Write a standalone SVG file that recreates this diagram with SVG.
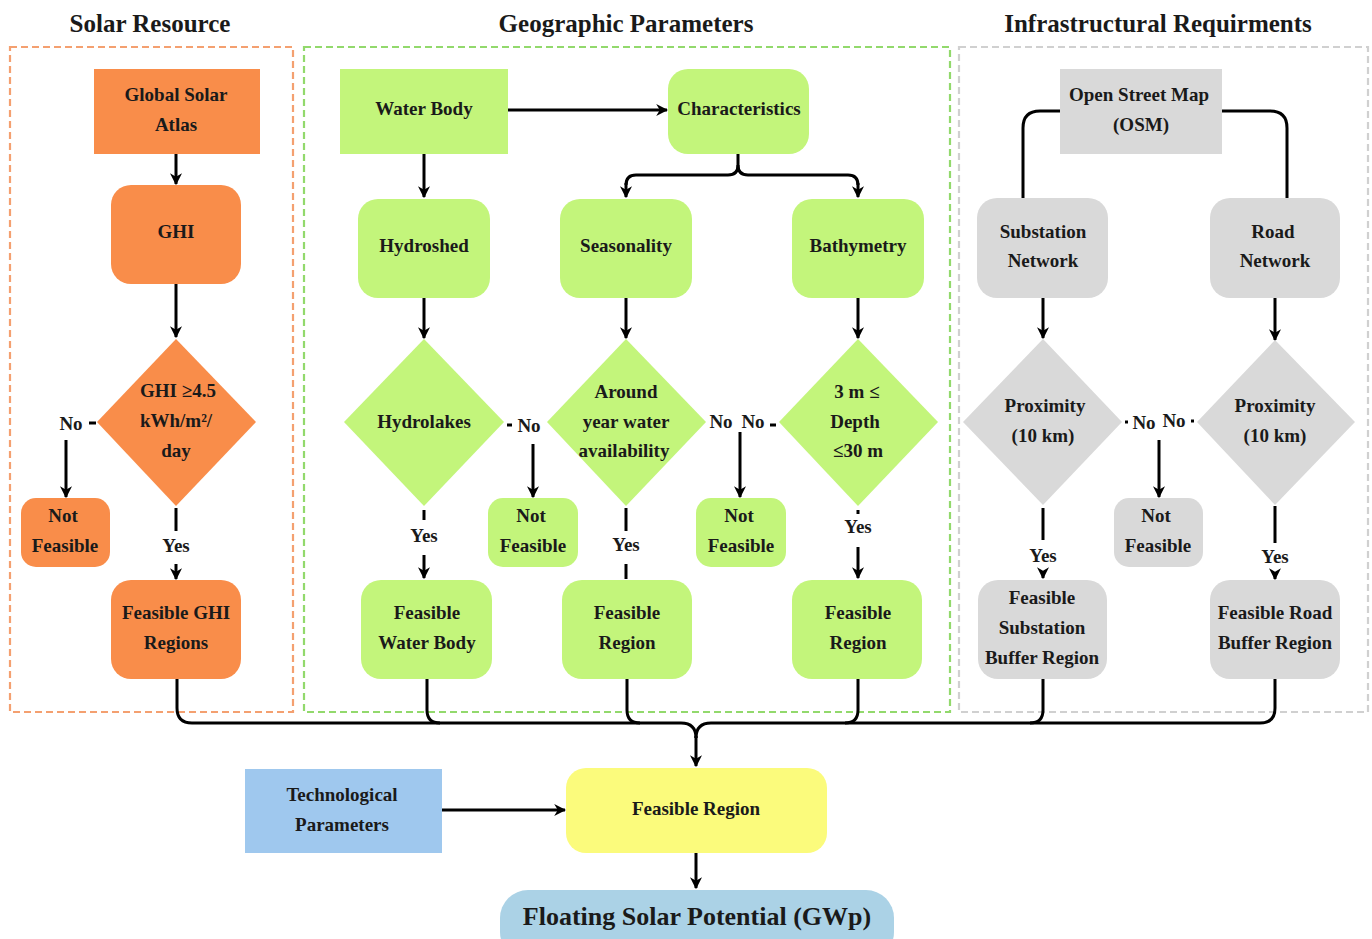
<svg xmlns="http://www.w3.org/2000/svg" width="1372" height="939" viewBox="0 0 1372 939">
<style>
text{font-family:"Liberation Serif","Times New Roman",serif;font-weight:bold;fill:#1a1a1a;text-anchor:middle;dominant-baseline:central}
.t{font-size:19px}
.h{font-size:25px}
.big{font-size:26px}
.or{fill:#F98D4A}
.gr{fill:#C3F57B}
.gy{fill:#D9D9D9}
.fr{fill:none;stroke-width:2.2;stroke-dasharray:7 4}
.c{fill:none;stroke:#000;stroke-width:3}
.a{fill:none;stroke:#000;stroke-width:3;marker-end:url(#ah)}
</style>
<defs>
<marker id="ah" viewBox="0 0 10 10" refX="9" refY="5" markerWidth="4" markerHeight="4" orient="auto" markerUnits="strokeWidth">
<path d="M0,0 L10,5 L0,10 L3,5 Z" fill="#000"/>
</marker>
</defs>
<rect width="1372" height="939" fill="#fff"/>

<g id="headings">
<text class="h" x="150" y="23">Solar Resource</text>
<text class="h" x="626" y="23">Geographic Parameters</text>
<text class="h" x="1158" y="23">Infrastructural Requirments</text>
</g>

<g id="frames">
<rect class="fr" x="10" y="47" width="283" height="665" stroke="#F4A070"/>
<rect class="fr" x="304" y="47" width="646" height="665" stroke="#92D96C"/>
<rect class="fr" x="959" y="47" width="409" height="665" stroke="#D0D0D0"/>
</g>

<g id="connectors">
<!-- solar -->
<path class="a" d="M176,154 V184"/>
<path class="a" d="M176,284 V337"/>
<path class="c" d="M89,423 H96"/>
<path class="a" d="M66,440 V497"/>
<path class="c" d="M176,508 V531"/>
<path class="a" d="M176,564 V579"/>
<!-- geographic -->
<path class="a" d="M508,110 H667"/>
<path class="a" d="M424,154 V197"/>
<path class="c" d="M738,154 V165 Q738,175 728,175 H636 Q626,175 626,185"/>
<path class="a" d="M626,183 V197"/>
<path class="c" d="M738,165 Q738,175 748,175 H848 Q858,175 858,185"/>
<path class="a" d="M858,183 V197"/>
<path class="a" d="M424,298 V338"/>
<path class="a" d="M626,298 V338"/>
<path class="a" d="M858,298 V338"/>
<path class="c" d="M507,425 H512"/>
<path class="a" d="M533,444 V497"/>
<path class="c" d="M770,425 H776"/>
<path class="a" d="M740,432 Q740,436 740,440 V497"/>
<path class="c" d="M424,510 V520"/>
<path class="a" d="M424,555 V578"/>
<path class="c" d="M626,508 V531"/>
<path class="c" d="M626,564 V579"/>
<path class="c" d="M858,510 V514"/>
<path class="a" d="M858,547 V578"/>
<!-- infrastructure -->
<path class="c" d="M1060,111 H1040 Q1023,111 1023,128 V198"/>
<path class="c" d="M1222,111 H1270 Q1287,111 1287,128 V198"/>
<path class="a" d="M1043,298 V338"/>
<path class="a" d="M1275,298 V340"/>
<path class="c" d="M1125,422 H1128"/>
<path class="c" d="M1191,421 H1194"/>
<path class="a" d="M1159,440 V497"/>
<path class="c" d="M1043,508 V540"/>
<path class="a" d="M1043,572 V578"/>
<path class="c" d="M1275,506 V543"/>
<path class="a" d="M1275,574 V579"/>
<!-- merge -->
<path class="c" d="M177,679 V708 Q177,723 192,723 H681 Q696,723 696,738"/>
<path class="c" d="M1275,679 V708 Q1275,723 1260,723 H711 Q696,723 696,738"/>
<path class="a" d="M696,736 V766"/>
<path class="c" d="M427,679 V710 Q427,723 440,723"/>
<path class="c" d="M627,679 V710 Q627,723 640,723"/>
<path class="c" d="M858,679 V710 Q858,723 845,723"/>
<path class="c" d="M1043,679 V710 Q1043,723 1030,723"/>
<!-- bottom -->
<path class="a" d="M442,810 H565"/>
<path class="a" d="M696,853 V888"/>
</g>

<g id="n-gsa"><rect class="or" x="94" y="69" width="166" height="85"/><text class="t" x="176" y="94">Global Solar</text><text class="t" x="176" y="124">Atlas</text></g>
<g id="n-ghi"><rect class="or" x="111" y="185" width="130" height="99" rx="20"/><text class="t" x="176" y="231">GHI</text></g>
<g id="n-ghicheck"><polygon class="or" points="176,339 256,422 176,506 97,422"/><text class="t" x="178" y="390">GHI ≥4.5</text><text class="t" x="176" y="420">kWh/m²/</text><text class="t" x="176" y="450">day</text></g>
<g id="l-no1"><text class="t" x="71" y="423">No</text></g>
<g id="n-nf1"><rect class="or" x="21" y="498" width="89" height="69" rx="15"/><text class="t" x="63" y="515">Not</text><text class="t" x="65" y="545">Feasible</text></g>
<g id="l-yes1"><text class="t" x="176" y="545">Yes</text></g>
<g id="n-fghi"><rect class="or" x="111" y="580" width="130" height="99" rx="20"/><text class="t" x="176" y="612">Feasible GHI</text><text class="t" x="176" y="642">Regions</text></g>

<g id="n-water"><rect class="gr" x="340" y="69" width="168" height="85"/><text class="t" x="424" y="108">Water Body</text></g>
<g id="n-char"><rect class="gr" x="668" y="69" width="141" height="85" rx="20"/><text class="t" x="739" y="108">Characteristics</text></g>
<g id="n-hydroshed"><rect class="gr" x="358" y="199" width="132" height="99" rx="20"/><text class="t" x="424" y="245">Hydroshed</text></g>
<g id="n-season"><rect class="gr" x="560" y="199" width="132" height="99" rx="20"/><text class="t" x="626" y="245">Seasonality</text></g>
<g id="n-bathy"><rect class="gr" x="792" y="199" width="132" height="99" rx="20"/><text class="t" x="858" y="245">Bathymetry</text></g>
<g id="n-hydrolakes"><polygon class="gr" points="424,339 504,422 424,506 344,422"/><text class="t" x="424" y="421">Hydrolakes</text></g>
<g id="n-around"><polygon class="gr" points="626,339 706,422 626,506 547,422"/><text class="t" x="626" y="391">Around</text><text class="t" x="626" y="421">year water</text><text class="t" x="624" y="450">availability</text></g>
<g id="n-depth"><polygon class="gr" points="858,339 938,422 858,506 779,422"/><text class="t" x="857" y="391">3 m ≤</text><text class="t" x="855" y="421">Depth</text><text class="t" x="858" y="450">≤30 m</text></g>
<g id="l-no2"><text class="t" x="529" y="425">No</text></g>
<g id="l-no3"><text class="t" x="721" y="421">No</text></g>
<g id="l-no4"><text class="t" x="753" y="421">No</text></g>
<g id="n-nf2"><rect class="gr" x="488" y="498" width="90" height="69" rx="15"/><text class="t" x="531" y="515">Not</text><text class="t" x="533" y="545">Feasible</text></g>
<g id="n-nf3"><rect class="gr" x="696" y="498" width="90" height="69" rx="15"/><text class="t" x="739" y="515">Not</text><text class="t" x="741" y="545">Feasible</text></g>
<g id="l-yes2"><text class="t" x="424" y="535">Yes</text></g>
<g id="l-yes3"><text class="t" x="626" y="544">Yes</text></g>
<g id="l-yes4"><text class="t" x="858" y="526">Yes</text></g>
<g id="n-fwater"><rect class="gr" x="361" y="580" width="131" height="99" rx="20"/><text class="t" x="427" y="612">Feasible</text><text class="t" x="427" y="642">Water Body</text></g>
<g id="n-freg1"><rect class="gr" x="562" y="580" width="130" height="99" rx="20"/><text class="t" x="627" y="612">Feasible</text><text class="t" x="627" y="642">Region</text></g>
<g id="n-freg2"><rect class="gr" x="792" y="580" width="130" height="99" rx="20"/><text class="t" x="858" y="612">Feasible</text><text class="t" x="858" y="642">Region</text></g>

<g id="n-osm"><rect class="gy" x="1060" y="69" width="162" height="85"/><text class="t" x="1139" y="94">Open Street Map</text><text class="t" x="1141" y="124">(OSM)</text></g>
<g id="n-sub"><rect class="gy" x="977" y="198" width="131" height="100" rx="20"/><text class="t" x="1043" y="231">Substation</text><text class="t" x="1043" y="260">Network</text></g>
<g id="n-road"><rect class="gy" x="1210" y="198" width="130" height="100" rx="20"/><text class="t" x="1273" y="231">Road</text><text class="t" x="1275" y="260">Network</text></g>
<g id="n-prox1"><polygon class="gy" points="1043,339 1122,422 1043,505 963,422"/><text class="t" x="1045" y="405">Proximity</text><text class="t" x="1043" y="435">(10 km)</text></g>
<g id="n-prox2"><polygon class="gy" points="1275,340 1355,422 1275,505 1197,422"/><text class="t" x="1275" y="405">Proximity</text><text class="t" x="1275" y="435">(10 km)</text></g>
<g id="l-no5"><text class="t" x="1144" y="422">No</text></g>
<g id="l-no6"><text class="t" x="1174" y="420">No</text></g>
<g id="n-nf4"><rect class="gy" x="1114" y="498" width="89" height="69" rx="15"/><text class="t" x="1156" y="515">Not</text><text class="t" x="1158" y="545">Feasible</text></g>
<g id="l-yes5"><text class="t" x="1043" y="555">Yes</text></g>
<g id="l-yes6"><text class="t" x="1275" y="556">Yes</text></g>
<g id="n-fsub"><rect class="gy" x="978" y="580" width="129" height="99" rx="20"/><text class="t" x="1042" y="597">Feasible</text><text class="t" x="1042" y="627">Substation</text><text class="t" x="1042" y="657">Buffer Region</text></g>
<g id="n-froad"><rect class="gy" x="1210" y="580" width="130" height="99" rx="20"/><text class="t" x="1275" y="612">Feasible Road</text><text class="t" x="1275" y="642">Buffer Region</text></g>

<g id="n-tech"><rect x="245" y="769" width="197" height="84" fill="#9FC8EE"/><text class="t" x="342" y="794">Technological</text><text class="t" x="342" y="824">Parameters</text></g>
<g id="n-final"><rect x="566" y="768" width="261" height="85" rx="20" fill="#FBFB7C"/><text class="t" x="696" y="808">Feasible Region</text></g>
<g id="n-potential"><rect x="500" y="890" width="394" height="70" rx="28" fill="#ABD2E6"/><text class="big" x="697" y="916">Floating Solar Potential (GWp)</text></g>
</svg>
